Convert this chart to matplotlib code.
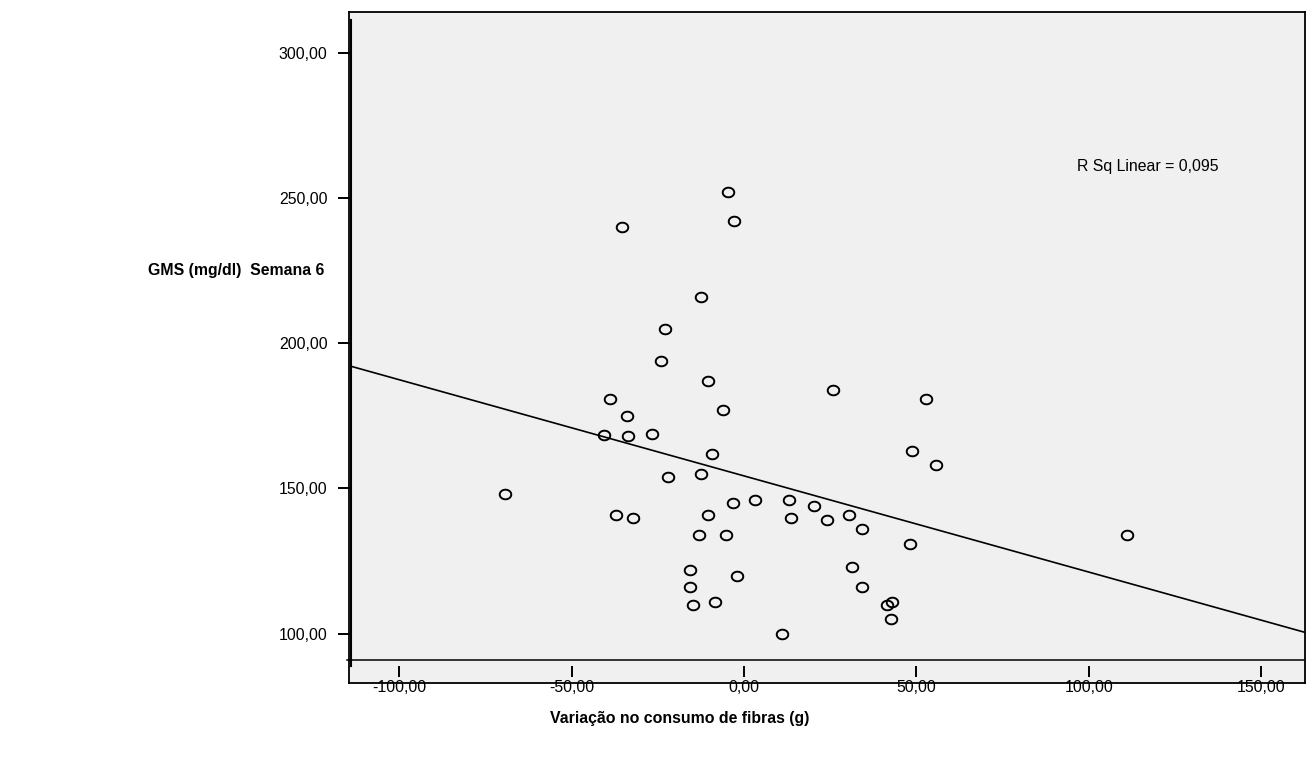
import numpy as np
import matplotlib

matplotlib.use("Agg")
import matplotlib.pyplot as plt
from matplotlib.path import Path

plt.rcParams["font.family"] = ["Liberation Sans", "DejaVu Sans"]

# fibre intake change (g) vs fasting glucose at week 6
fibra = [-69.3, -35.4, -40.6, -38.9, -37.1, -33.9, -33.7, -32.2, -26.7, -24.1,
         -22.9, -22.0, -12.5, -12.5, -13.1, -15.7, -15.7, -14.8, -4.6, -2.9,
         -10.4, -10.4, -9.3, -8.4, -6.1, -5.2, -3.2, -2.0, 3.2, 11.0,
         13.1, 13.6, 20.3, 24.1, 25.8, 30.5, 31.3, 34.2, 34.2, 41.5,
         42.9, 42.6, 48.2, 48.7, 52.8, 55.7, 111.1]
gms = [148.1, 240.0, 168.4, 180.8, 140.9, 174.9, 168.1, 139.8, 168.7, 193.9,
       204.9, 153.9, 215.9, 155.0, 134.0, 121.9, 116.1, 109.9, 252.0, 242.1,
       187.0, 140.9, 161.9, 110.9, 177.0, 134.0, 145.0, 119.9, 146.0, 100.0,
       146.0, 139.8, 144.0, 139.1, 183.9, 140.9, 123.0, 136.0, 116.1, 109.9,
       110.9, 105.1, 130.9, 162.9, 180.8, 158.1, 134.0]

x_ticks = [-100, -50, 0, 50, 100, 150]
x_tick_labels = ["-100,00", "-50,00", "0,00", "50,00", "100,00", "150,00"]
y_ticks = [100, 150, 200, 250, 300]
y_tick_labels = ["100,00", "150,00", "200,00", "250,00", "300,00"]
r_sq_label = "R Sq Linear = 0,095"

W, H = 1315, 760
XLIM = (-114.0, 162.76)
YLIM = (90.95, 311.26)


def frac(l, t, r, b):
    return [l / W, 1 - b / H, (r - l) / W, (b - t) / H]


fig = plt.figure(figsize=(W / 100, H / 100), dpi=100)

# grey SPSS chart frame
box = fig.add_axes(frac(349, 12, 1305, 683))
box.set_facecolor("#f0f0f0")
box.set_xticks([])
box.set_yticks([])
for s in box.spines.values():
    s.set_linewidth(1.3)
    s.set_color("black")

ax = fig.add_axes(frac(351, 20, 1305, 660))
ax.patch.set_alpha(0)
ax.set_xlim(*XLIM)
ax.set_ylim(*YLIM)

for s in ("top", "right"):
    ax.spines[s].set_visible(False)
ax.spines["left"].set_linewidth(1.5)
ax.spines["left"].set_bounds(88.9, YLIM[1])
ax.spines["bottom"].set_color("none")
ax.spines["bottom"].set_position(("outward", 4.3))

# x axis line (slightly longer than the plotting range, as in SPSS)
ax.plot([-115.2, 162.5], [YLIM[0], YLIM[0]], color="black", lw=1.1,
        clip_on=False, zorder=2)

ax.set_xticks(x_ticks)
ax.set_xticklabels(x_tick_labels)
ax.set_yticks(y_ticks)
ax.set_yticklabels(y_tick_labels)
ax.tick_params(axis="x", direction="out", length=7.9, width=1.4, pad=2.5,
               labelsize=11.4, colors="black")
ax.tick_params(axis="y", direction="out", length=9.4, width=1.4, pad=7.5,
               labelsize=11.4, colors="black")

# open elliptical markers
t = np.linspace(0, 2 * np.pi, 64)
ell = Path(np.column_stack([1.2 * np.cos(t), np.sin(t)]), closed=True)
ax.plot(fibra, gms, linestyle="none", marker=ell, markersize=8.3,
        markerfacecolor="none", markeredgecolor="black", markeredgewidth=1.4,
        zorder=3)

# linear fit across the whole x range
k, b0 = np.polyfit(fibra, gms, 1)
xx = np.array(XLIM)
ax.plot(xx, k * xx + b0, color="black", lw=1.2, zorder=2)

ax.text(1077 / W, 1 - 166 / H, r_sq_label, transform=fig.transFigure,
        fontsize=11.4, ha="left", va="center")

fig.text(148 / W, 1 - 270 / H, "GMS (mg/dl)  Semana 6", fontsize=11.4,
         fontweight="bold", ha="left", va="center")
fig.text(680 / W, 1 - 718 / H, "Variação no consumo de fibras (g)",
         fontsize=11.4, fontweight="bold", ha="center", va="center")

fig.savefig("out.png", dpi=100, facecolor="white")
